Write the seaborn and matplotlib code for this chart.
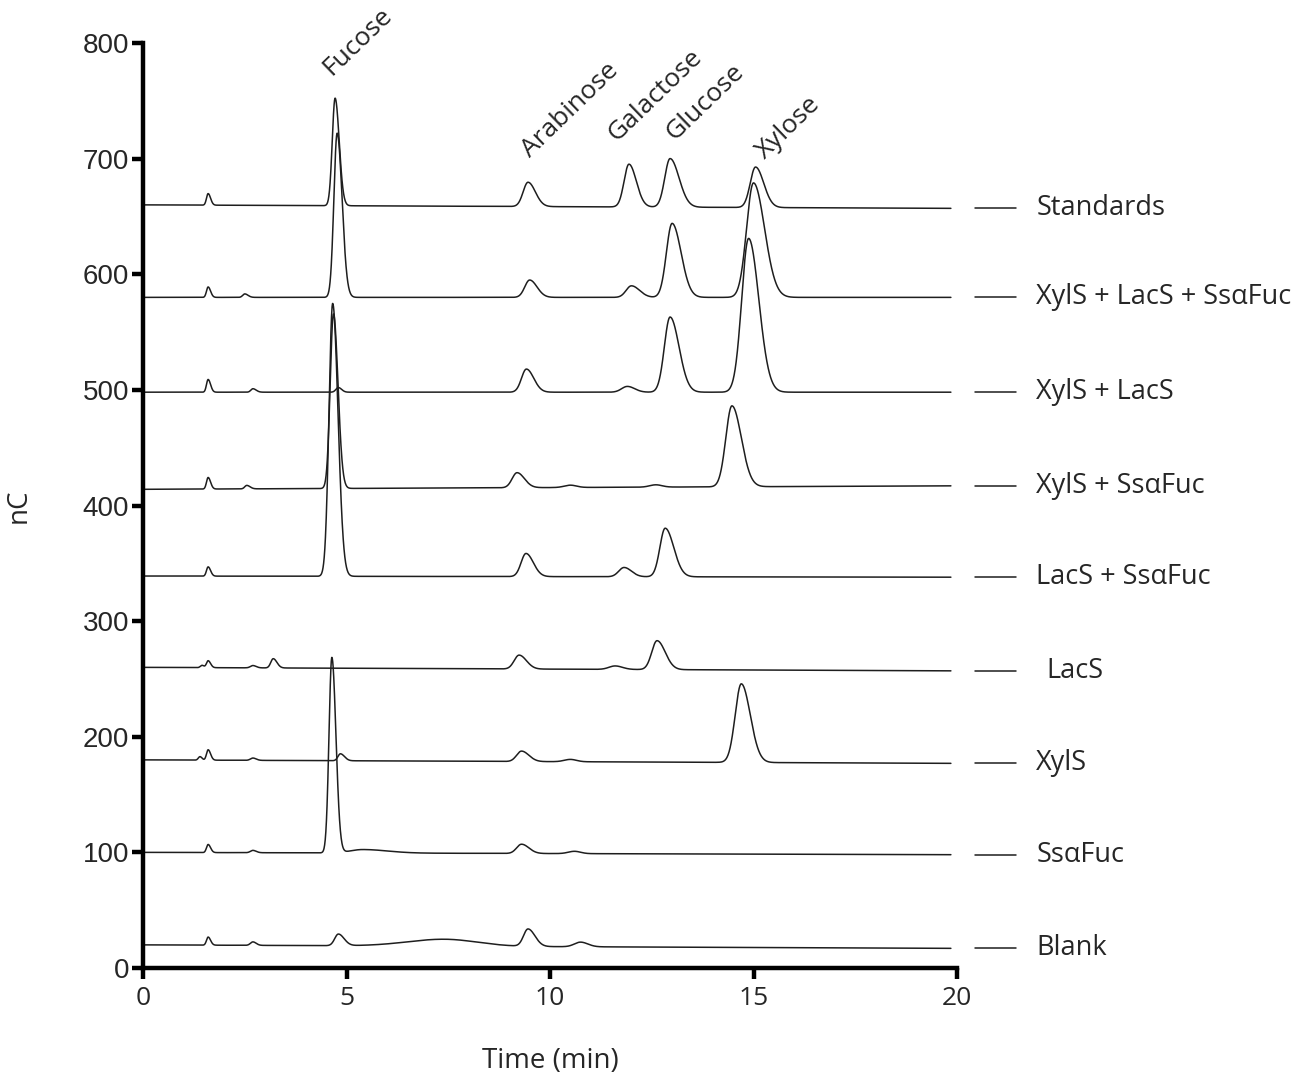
import numpy as np
import pandas as pd
import matplotlib
matplotlib.use("Agg")
import matplotlib.pyplot as plt
import seaborn as sns

# ---------------- data ----------------
samples = ["Standards", "XylS + LacS + SsαFuc", "XylS + LacS", "XylS + SsαFuc",
           "LacS + SsαFuc", "LacS", "XylS", "SsαFuc", "Blank"]
base_start = [660, 580, 498, 414, 339, 260, 180, 100, 20]
base_end = [657, 580, 498, 417, 338, 257, 177, 98, 17]

# peaks: (retention time, height above baseline, left width, right width)
peaks_standards = [(1.6, 10, 0.04, 0.06), (4.72, 93, 0.07, 0.10), (9.46, 21, 0.12, 0.18),
                   (11.94, 37, 0.12, 0.18), (12.95, 42, 0.13, 0.22), (15.05, 35, 0.13, 0.20)]
peaks_xyl_lac_fuc = [(1.6, 9, 0.04, 0.06), (2.5, 3, 0.05, 0.08), (4.77, 142, 0.08, 0.12),
                     (9.5, 15, 0.12, 0.18), (12.0, 10, 0.13, 0.20), (13.0, 64, 0.14, 0.22),
                     (15.0, 99, 0.17, 0.27)]
peaks_xyl_lac = [(1.6, 11, 0.04, 0.06), (2.7, 3, 0.05, 0.08), (4.8, 4, 0.06, 0.08),
                 (9.42, 20, 0.12, 0.18), (11.9, 5, 0.14, 0.18), (12.95, 65, 0.14, 0.22),
                 (14.88, 133, 0.17, 0.25)]
peaks_xyl_fuc = [(1.6, 10, 0.04, 0.06), (2.55, 3, 0.05, 0.08), (4.68, 151, 0.08, 0.11),
                 (9.19, 13, 0.12, 0.18), (10.5, 2, 0.15, 0.15), (12.6, 2, 0.15, 0.15),
                 (14.47, 70, 0.15, 0.23)]
peaks_lac_fuc = [(1.6, 8, 0.04, 0.06), (4.66, 236, 0.09, 0.13), (9.41, 20, 0.12, 0.18),
                 (11.82, 8, 0.13, 0.18), (12.83, 42, 0.13, 0.21)]
peaks_lac = [(1.45, 2, 0.04, 0.05), (1.6, 6, 0.04, 0.06), (2.7, 2, 0.06, 0.08),
             (3.2, 8, 0.06, 0.09), (9.24, 12, 0.12, 0.18), (11.6, 3, 0.15, 0.18),
             (12.63, 25, 0.13, 0.20)]
peaks_xyl = [(1.4, 3, 0.04, 0.05), (1.6, 9, 0.04, 0.06), (2.7, 2, 0.06, 0.08),
             (4.85, 6, 0.06, 0.10), (9.3, 9, 0.12, 0.18), (10.5, 2, 0.15, 0.15),
             (14.7, 68, 0.15, 0.22)]
peaks_fuc = [(1.6, 7, 0.04, 0.06), (2.7, 2, 0.06, 0.08), (4.64, 169, 0.07, 0.10),
             (5.4, 3, 0.3, 0.6), (9.3, 8, 0.12, 0.18), (10.6, 2, 0.15, 0.15)]
peaks_blank = [(1.6, 7, 0.04, 0.06), (2.7, 3, 0.06, 0.08), (4.8, 10, 0.09, 0.14),
               (7.4, 6, 0.9, 0.8), (9.46, 15, 0.11, 0.17), (10.75, 4, 0.15, 0.18)]
all_peaks = [peaks_standards, peaks_xyl_lac_fuc, peaks_xyl_lac, peaks_xyl_fuc,
             peaks_lac_fuc, peaks_lac, peaks_xyl, peaks_fuc, peaks_blank]

sugar_labels = ["Fucose", "Arabinose", "Galactose", "Glucose", "Xylose"]

x_ticks = [0, 5, 10, 15, 20]
y_ticks = [0, 100, 200, 300, 400, 500, 600, 700, 800]

# ---------------- build traces ----------------
t = np.linspace(0, 19.85, 4000)
frames = []
for name, b0, b1, pk in zip(samples, base_start, base_end, all_peaks):
    y = b0 + (b1 - b0) * t / t[-1]
    for (rt, h, wl, wr) in pk:
        w = np.where(t < rt, wl, wr)
        y = y + h * np.exp(-0.5 * ((t - rt) / w) ** 2)
    frames.append(pd.DataFrame({"time": t, "signal": y, "sample": name}))
df = pd.concat(frames, ignore_index=True)

# ---------------- plot ----------------
sns.set_style("ticks")
plt.rcParams["font.family"] = ["Open Sans", "DejaVu Sans"]

fig = plt.figure(figsize=(13.05, 10.81), dpi=100)
ax = fig.add_axes([143 / 1305, 113 / 1081, 814 / 1305, 925 / 1081])

sns.lineplot(data=df, x="time", y="signal", units="sample", estimator=None,
             color="#1e1e1e", lw=1.1, ax=ax, legend=False, sort=False)

ax.set_xlim(0, 20)
ax.set_ylim(0, 800)
ax.set_xticks(x_ticks)
ax.set_yticks(y_ticks)
ax.set_xticklabels([str(v) for v in x_ticks], fontsize=19)
ax.set_yticklabels([str(v) for v in y_ticks], fontsize=20, family=["Liberation Sans"])
for s in ["top", "right"]:
    ax.spines[s].set_visible(False)
for s in ["left", "bottom"]:
    ax.spines[s].set_linewidth(3.2)
    ax.spines[s].set_color("black")
ax.tick_params(axis="both", width=3.2, length=8, color="black")
ax.tick_params(axis="y", pad=2)
ax.tick_params(axis="x", pad=5)
ax.set_xlabel("Time (min)", fontsize=20, labelpad=26)
ax.set_ylabel("nC", fontsize=20, labelpad=36)

# sample labels on right with short dashes
for name, b1 in zip(samples, base_end):
    ax.plot([20.45, 21.45], [b1, b1], color="#1e1e1e", lw=1.1, clip_on=False)
    xoff = 22.2 if name == "LacS" else 21.95
    ax.text(xoff, b1, name, fontsize=19.5, va="center", ha="left")

# sugar labels (rotated)
label_pos = [(5.28, 801), (10.49, 742), (12.58, 755), (13.81, 749), (15.85, 727)]
for lab, (lx, ly) in zip(sugar_labels, label_pos):
    ax.text(lx, ly, lab, fontsize=19, rotation=44, rotation_mode="anchor",
            ha="center", va="center", clip_on=False)

fig.savefig("out.png", dpi=100)
